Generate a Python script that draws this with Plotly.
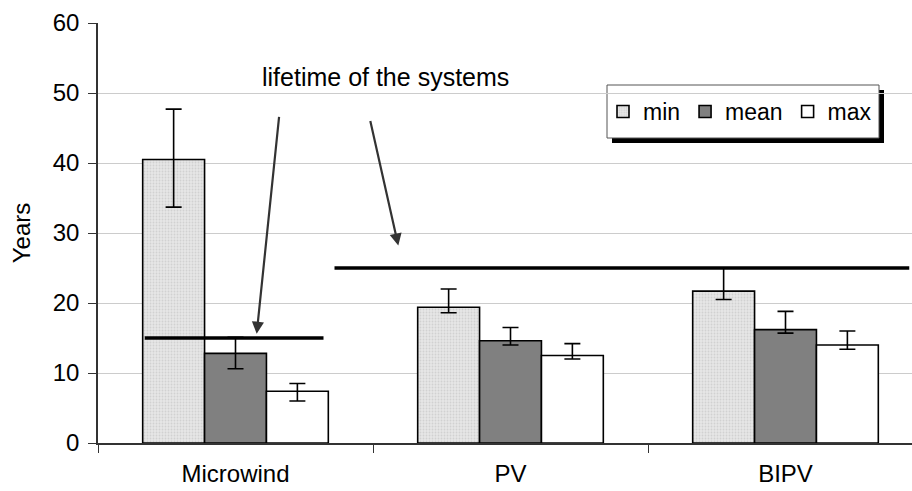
import plotly.graph_objects as go

categories = ["Microwind", "PV", "BIPV"]
series_names = ["min", "mean", "max"]

min_vals = [40.5, 19.4, 21.7]
min_hi = [47.7, 22.0, 25.0]
min_lo = [33.7, 18.6, 20.5]

mean_vals = [12.8, 14.6, 16.2]
mean_hi = [15.1, 16.5, 18.8]
mean_lo = [10.6, 14.0, 15.7]

max_vals = [7.4, 12.5, 14.0]
max_hi = [8.5, 14.2, 16.0]
max_lo = [6.0, 12.0, 13.4]

lifetime = [15, 25, 25]
y_ticks = [0, 10, 20, 30, 40, 50, 60]

FONT = "Arial, 'Liberation Sans', sans-serif"
FS = 24
x_idx = list(range(len(categories)))

# plot area geometry (px)
W, H = 912, 491
ML, MR, MT, MB = 98, 0, 23, 48
PW, PH = W - ML - MR, H - MT - MB


def px_x(p):
    return (p - ML) / PW


def px_y(p):
    return (H - MB - p) / PH


fig = go.Figure()

styles = [
    dict(color="#e6e6e6", pattern=dict(shape=".", fgcolor="#bcbcbc", size=3, solidity=0.3, fillmode="overlay")),
    dict(color="#808080"),
    dict(color="#ffffff"),
]
for name, vals, hi, lo, st in zip(series_names,
                                  [min_vals, mean_vals, max_vals],
                                  [min_hi, mean_hi, max_hi],
                                  [min_lo, mean_lo, max_lo],
                                  styles):
    fig.add_trace(go.Bar(
        x=x_idx, y=vals, name=name,
        marker=dict(line=dict(color="black", width=1.6), **st),
        error_y=dict(type="data", symmetric=False,
                     array=[h - v for h, v in zip(hi, vals)],
                     arrayminus=[v - l for l, v in zip(lo, vals)],
                     color="black", thickness=1.6, width=8),
    ))

# lifetime lines: Microwind own segment, PV+BIPV shared segment
fig.add_trace(go.Scatter(x=[x_idx[0] - 0.33, x_idx[0] + 0.32], y=[lifetime[0]] * 2,
                         mode="lines", line=dict(color="black", width=3.5),
                         showlegend=False, hoverinfo="skip"))
fig.add_trace(go.Scatter(x=[x_idx[1] - 0.64, x_idx[2] + 0.45], y=[lifetime[1]] * 2,
                         mode="lines", line=dict(color="black", width=3.5),
                         showlegend=False, hoverinfo="skip"))

fig.add_annotation(x=0.547, y=52.3, xref="x", yref="y", text="lifetime of the systems",
                   showarrow=False, font=dict(size=25, color="black", family=FONT))
for (x0, y0, x1, y1) in [(0.159, 46.8, 0.077, 15.6), (0.489, 46.2, 0.592, 28.2)]:
    fig.add_annotation(x=x1, y=y1, ax=x0, ay=y0, xref="x", yref="y", axref="x", ayref="y",
                       text="", showarrow=True, arrowhead=2, arrowsize=1.1, arrowwidth=2.2,
                       arrowcolor="#333333")

# legend box with shadow
box = (607, 85, 879, 138)
sh = 5
fig.add_shape(type="rect", xref="paper", yref="paper",
              x0=px_x(box[0] + sh), x1=px_x(box[2] + sh), y0=px_y(box[3] + sh), y1=px_y(box[1] + sh),
              fillcolor="black", line=dict(width=0), layer="below")
fig.add_shape(type="rect", xref="paper", yref="paper",
              x0=px_x(box[0]), x1=px_x(box[2]), y0=px_y(box[3]), y1=px_y(box[1]),
              fillcolor="white", line=dict(width=1, color="#555555"), layer="below")

fig.update_layout(
    width=W, height=H,
    margin=dict(l=ML, r=MR, t=MT, b=MB, autoexpand=False),
    paper_bgcolor="white", plot_bgcolor="rgba(0,0,0,0)",
    font=dict(family=FONT, size=FS, color="black"),
    barmode="group", bargap=0.325, bargroupgap=0,
    showlegend=True,
    legend=dict(orientation="h", x=px_x(box[0] - 4), y=px_y((box[1] + box[3]) / 2),
                xanchor="left", yanchor="middle",
                bgcolor="rgba(0,0,0,0)", borderwidth=0,
                font=dict(size=FS - 1, family=FONT), itemwidth=30,
                tracegroupgap=0),
    xaxis=dict(range=[-0.5, 2.46], tickmode="array", tickvals=x_idx, ticktext=categories,
               ticks="", showgrid=False, zeroline=False, showline=True, automargin=False,
               linecolor="#333333", linewidth=1.5,
               ticklabelstandoff=8,
               minor=dict(tickmode="array", tickvals=[-0.5, 0.5, 1.5, 2.5], ticks="outside",
                          ticklen=8, tickcolor="#333333", tickwidth=1, showgrid=False)),
    yaxis=dict(range=[0, 60], tickmode="array", tickvals=y_ticks, ticks="outside", ticklen=8,
               tickcolor="#333333", showline=True, linecolor="#333333", linewidth=1.5,
               showgrid=True, gridcolor="#cccccc", gridwidth=1, zeroline=False,
               automargin=False, ticklabelstandoff=4,
               title=dict(text="Years", font=dict(size=FS))),
)

fig.write_html("out.html", config={"displayModeBar": False},
               post_script="document.body.style.margin='0';document.body.style.overflow='hidden';")
